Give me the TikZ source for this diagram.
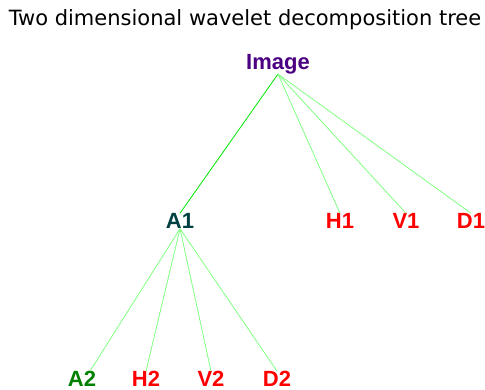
\documentclass[tikz,border=0pt]{standalone}
\usepackage{fontspec}
\setmainfont{Liberation Sans}
\newfontfamily\titlefont{DejaVu Sans}
\definecolor{imgpurple}{RGB}{75,0,130}
\definecolor{aone}{RGB}{0,64,64}
\definecolor{atwo}{RGB}{0,128,0}
\definecolor{edgegreen}{RGB}{128,255,128}
\definecolor{edgebright}{RGB}{0,230,0}
\tikzset{
	lbl/.style={inner sep=0pt, font=\fontsize{22}{22}\selectfont\bfseries},
	redlbl/.style={lbl, text=red},
	edge/.style={color=edgegreen, line width=0.8pt}
}
\begin{document}
\begin{tikzpicture}[x=1pt, y=-1pt]
	\useasboundingbox (0,0) rectangle (485,390);
	\node[inner sep=0pt, font=\titlefont\fontsize{21}{21}\selectfont] (title) at (245,20) {Two dimensional wavelet decomposition tree};
	\node[lbl, text=imgpurple] (img) at (278,64) {Image};
	\node[lbl, text=aone] (a1) at (180,221) {A1};
	\node[redlbl] (h1) at (340,221) {H1};
	\node[redlbl] (v1) at (406,221) {V1};
	\node[redlbl] (d1) at (471,221) {D1};
	\node[lbl, text=atwo] (a2) at (82,379) {A2};
	\node[redlbl] (h2) at (146,379) {H2};
	\node[redlbl] (v2) at (211,379) {V2};
	\node[redlbl] (d2) at (277,379) {D2};
	\draw[edge, color=edgebright] (img.south) -- (a1.north);
	\draw[edge] (img.south) -- (h1.north);
	\draw[edge] (img.south) -- (v1.north);
	\draw[edge] (img.south) -- (d1.north);
	\draw[edge] (a1.south) -- ([xshift=8pt]a2.north);
	\draw[edge] (a1.south) -- (h2.north);
	\draw[edge] (a1.south) -- (v2.north);
	\draw[edge] (a1.south) -- (d2.north);
\end{tikzpicture}
\end{document}
